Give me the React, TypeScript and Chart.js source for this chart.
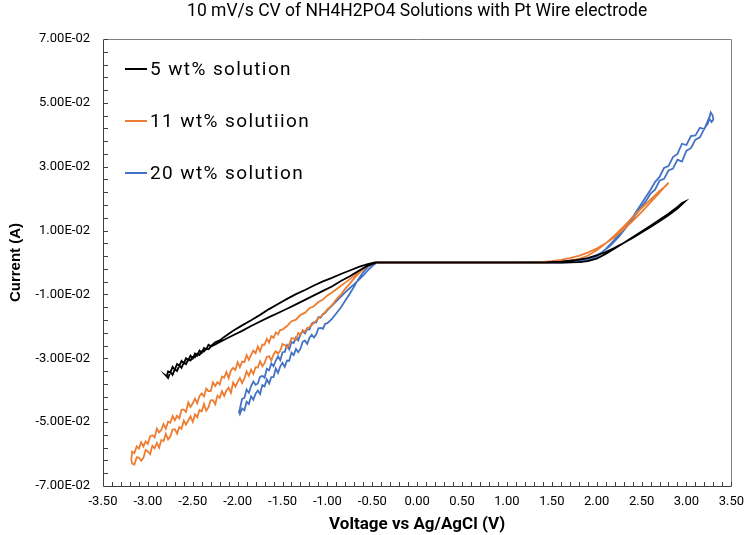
import React, { useEffect, useRef } from "react";
import { Chart, registerables } from "chart.js";

Chart.register(...registerables);

const TITLE = "10 mV/s CV of NH4H2PO4 Solutions with Pt Wire electrode";
const X_TITLE = "Voltage vs Ag/AgCl (V)";
const Y_TITLE = "Current (A)";
const SERIES_LABELS = ["5 wt% solution", "11 wt% solutiion", "20 wt% solution"];
const SERIES_COLORS = ["#000000", "#ED7D31", "#4472C4"];

const X_MIN = -3.5;
const X_MAX = 3.5;
const X_STEP = 0.5;
const Y_MIN = -0.07;
const Y_MAX = 0.07;
const Y_STEP = 0.02;

// 5 wt% solution: voltage (V) and current (A)
const v5 = [
  0, -0.2, -0.45,
  -0.55, -0.65, -0.75, -0.85, -0.95, -1.05, -1.15, -1.25, -1.35, -1.45, -1.55, -1.65, -1.75, -1.85, -1.95, -2.05, -2.15, -2.25,
  -2.3, -2.325, -2.35, -2.375, -2.4, -2.425, -2.45, -2.475, -2.5, -2.525, -2.55, -2.575, -2.6, -2.625, -2.65, -2.675, -2.7, -2.725, -2.75, -2.775, -2.8,
  -2.79, -2.775, -2.75, -2.725, -2.7, -2.675, -2.65, -2.625, -2.6, -2.575, -2.55, -2.525, -2.5, -2.475, -2.45, -2.425, -2.4, -2.375, -2.35, -2.325, -2.3,
  -2.25, -2.2, -2.15, -2.05, -1.95, -1.85, -1.75, -1.65, -1.55, -1.45, -1.35, -1.25, -1.15, -1.05, -0.95, -0.85, -0.75, -0.65, -0.55, -0.47,
  -0.4, 0, 0.5, 1.0, 1.3,
  1.45, 1.6, 1.75, 1.9, 2.0, 2.1, 2.2, 2.3, 2.4, 2.5, 2.6, 2.7, 2.8, 2.9, 2.98,
  2.95, 2.9, 2.8, 2.7, 2.6, 2.5, 2.4, 2.3, 2.2, 2.1, 2.0, 1.9, 1.8, 1.6, 1.3, 1.0, 0.5, 0,
];
const i5 = [
  0, 0, 0,
  -0.001, -0.0026, -0.0043, -0.0058, -0.0075, -0.0089, -0.0103, -0.0117, -0.0131, -0.0145, -0.0158, -0.0171, -0.0185, -0.0199, -0.0214, -0.0228, -0.0242, -0.0257,
  -0.0264, -0.0272, -0.027, -0.0279, -0.0278, -0.029, -0.0286, -0.0297, -0.0296, -0.0307, -0.0303, -0.0318, -0.0313, -0.033, -0.0322, -0.034, -0.0334, -0.0352, -0.0343, -0.0362, -0.0354,
  -0.0356, -0.0341, -0.0345, -0.0327, -0.0336, -0.0318, -0.0324, -0.0308, -0.0316, -0.03, -0.0306, -0.0292, -0.0301, -0.0285, -0.0292, -0.0276, -0.0283, -0.0268, -0.0272, -0.0258, -0.0262,
  -0.025, -0.0244, -0.0233, -0.0214, -0.0197, -0.0181, -0.0164, -0.0146, -0.013, -0.0114, -0.0099, -0.0086, -0.0072, -0.0059, -0.0048, -0.0036, -0.0025, -0.0014, -0.0005, 0,
  0, 0, 0, 0, 0,
  0.0001, 0.0003, 0.0007, 0.0014, 0.0022, 0.0033, 0.0046, 0.0061, 0.0077, 0.0094, 0.0111, 0.0129, 0.0148, 0.0169, 0.019,
  0.0186, 0.0174, 0.0153, 0.0134, 0.0115, 0.0097, 0.0079, 0.0061, 0.0044, 0.0027, 0.0012, 0.0004, 0.0001, 0, 0, 0, 0, 0,
];

// 11 wt% solution
const v11 = [
  0, -0.2, -0.45,
  -0.5, -0.55, -0.6, -0.65, -0.7, -0.75, -0.8, -0.85, -0.9, -0.95, -1.0, -1.05, -1.1, -1.15,
  -1.2, -1.225, -1.25, -1.275, -1.3, -1.325, -1.35, -1.375, -1.4, -1.425, -1.45, -1.475, -1.5, -1.525, -1.55, -1.575, -1.6, -1.625, -1.65, -1.675,
  -1.7, -1.725, -1.75, -1.775, -1.8, -1.825, -1.85, -1.875, -1.9, -1.925, -1.95, -1.975, -2.0, -2.025, -2.05, -2.075, -2.1, -2.125, -2.15, -2.175,
  -2.2, -2.225, -2.25, -2.275, -2.3, -2.325, -2.35, -2.375, -2.4, -2.425, -2.45, -2.475, -2.5, -2.525, -2.55, -2.575, -2.6, -2.625, -2.65, -2.675,
  -2.7, -2.725, -2.75, -2.775, -2.8, -2.825, -2.85, -2.875, -2.9, -2.925, -2.95, -2.975, -3.0, -3.025, -3.05, -3.075, -3.1, -3.125, -3.15, -3.175,
  -3.185,
  -3.175, -3.15, -3.125, -3.1, -3.075, -3.05, -3.025, -3.0, -2.975, -2.95, -2.925, -2.9, -2.875, -2.85, -2.825, -2.8, -2.775, -2.75, -2.725, -2.7,
  -2.675, -2.65, -2.625, -2.6, -2.575, -2.55, -2.525, -2.5, -2.475, -2.45, -2.425, -2.4, -2.375, -2.35, -2.325, -2.3, -2.275, -2.25, -2.225, -2.2,
  -2.175, -2.15, -2.125, -2.1, -2.075, -2.05, -2.025, -2.0, -1.975, -1.95, -1.925, -1.9, -1.875, -1.85, -1.825, -1.8, -1.775, -1.75, -1.725, -1.7,
  -1.675, -1.65, -1.625, -1.6, -1.575, -1.55, -1.525, -1.5,
  -1.45, -1.4, -1.35, -1.3, -1.25, -1.2, -1.15, -1.1, -1.05, -1.0, -0.95, -0.9, -0.85, -0.8, -0.75, -0.7, -0.65, -0.6, -0.55, -0.5, -0.45,
  0, 0.5, 1.0, 1.3,
  1.4, 1.5, 1.6, 1.7, 1.8, 1.9, 2.0, 2.1, 2.2, 2.3, 2.4, 2.5, 2.6, 2.7, 2.75, 2.8,
  2.78, 2.7, 2.6, 2.5, 2.4, 2.3, 2.2, 2.1, 2.0, 1.9, 1.8, 1.7, 1.6, 1.4, 1.0, 0.5, 0,
];
const i11 = [
  0, 0, 0,
  -0.0004, -0.0011, -0.0021, -0.0034, -0.0049, -0.0066, -0.0082, -0.0101, -0.0115, -0.0134, -0.0147, -0.0164, -0.0174, -0.019,
  -0.0202, -0.0205, -0.0217, -0.0212, -0.0226, -0.0221, -0.0242, -0.0238, -0.0237, -0.0256, -0.0267, -0.0258, -0.0255, -0.0276, -0.0286, -0.0278, -0.0288, -0.0307, -0.0293, -0.0296,
  -0.0315, -0.0325, -0.0309, -0.0329, -0.0328, -0.0349, -0.0336, -0.0355, -0.0341, -0.0363, -0.0378, -0.0362, -0.0374, -0.0389, -0.0376, -0.0408, -0.0392, -0.0401, -0.0418, -0.0403,
  -0.0424, -0.0417, -0.0444, -0.0431, -0.0432, -0.0453, -0.0464, -0.0443, -0.0466, -0.0462, -0.0485, -0.0476, -0.0499, -0.0482, -0.0495, -0.0508, -0.0495, -0.0521, -0.0515, -0.0536,
  -0.0522, -0.0523, -0.0545, -0.0554, -0.0537, -0.0559, -0.0556, -0.058, -0.0565, -0.0582, -0.0574, -0.06, -0.0592, -0.0587, -0.0612, -0.0621, -0.0611, -0.061, -0.0633, -0.063,
  -0.0618,
  -0.0592, -0.0597, -0.0576, -0.0583, -0.0563, -0.0576, -0.056, -0.0568, -0.0544, -0.0541, -0.0548, -0.052, -0.0532, -0.0524, -0.0506, -0.0521, -0.0498, -0.0502, -0.0481, -0.0494,
  -0.048, -0.0488, -0.0461, -0.0461, -0.0468, -0.0438, -0.0452, -0.0441, -0.0426, -0.0441, -0.0418, -0.041, -0.0419, -0.0395, -0.0403, -0.0403, -0.0375, -0.0387, -0.0375, -0.0382,
  -0.0357, -0.0361, -0.0343, -0.0362, -0.0338, -0.033, -0.0337, -0.0312, -0.0328, -0.031, -0.0312, -0.029, -0.0305, -0.0289, -0.0276, -0.0284, -0.0263, -0.0278, -0.0257, -0.0258,
  -0.0239, -0.0251, -0.0231, -0.0236, -0.0219, -0.0225, -0.0211, -0.021,
  -0.0199, -0.0184, -0.0179, -0.0164, -0.0158, -0.0143, -0.0137, -0.0124, -0.0116, -0.0103, -0.0094, -0.0084, -0.0073, -0.0063, -0.0052, -0.0041, -0.003, -0.002, -0.001, -0.0003, 0,
  0, 0, 0, 0,
  0.0002, 0.0004, 0.0008, 0.0014, 0.0021, 0.0031, 0.0044, 0.006, 0.008, 0.0104, 0.013, 0.0158, 0.0188, 0.0219, 0.0235, 0.025,
  0.0242, 0.0224, 0.0197, 0.017, 0.0141, 0.0112, 0.0085, 0.006, 0.0038, 0.0021, 0.0011, 0.0005, 0.0002, 0, 0, 0, 0,
];

// 20 wt% solution
const v20 = [
  0, -0.2, -0.45,
  -0.5, -0.55, -0.6, -0.65, -0.7, -0.75, -0.8, -0.85, -0.9, -0.95,
  -1.0, -1.025, -1.05, -1.075, -1.1, -1.125, -1.15, -1.175, -1.2, -1.225, -1.25, -1.275, -1.3, -1.325, -1.35, -1.375, -1.4, -1.425, -1.45, -1.475,
  -1.5, -1.525, -1.55, -1.575, -1.6, -1.625, -1.65, -1.675, -1.7, -1.725, -1.75, -1.775, -1.8, -1.825, -1.85, -1.875, -1.9, -1.925, -1.95, -1.975,
  -1.985,
  -1.975, -1.95, -1.925, -1.9, -1.875, -1.85, -1.825, -1.8, -1.775, -1.75, -1.725, -1.7, -1.675, -1.65, -1.625, -1.6, -1.575, -1.55, -1.525, -1.5,
  -1.475, -1.45, -1.425, -1.4, -1.375, -1.35, -1.325, -1.3, -1.275, -1.25, -1.225, -1.2, -1.175, -1.15, -1.125, -1.1, -1.075, -1.05, -1.025, -1.0,
  -0.95, -0.9, -0.85, -0.8, -0.75, -0.7, -0.65, -0.6, -0.55, -0.5, -0.45,
  0, 0.5, 1.0, 1.4,
  1.6, 1.75, 1.85, 1.95, 2.05, 2.15, 2.25, 2.35, 2.45, 2.55, 2.6, 2.65, 2.7, 2.75, 2.8, 2.85, 2.9, 2.95, 3.0, 3.05, 3.1, 3.15, 3.2, 3.24, 3.27, 3.29, 3.3,
  3.28, 3.25, 3.2, 3.15, 3.1, 3.05, 3.0, 2.95, 2.9, 2.85, 2.8, 2.75, 2.7, 2.65, 2.6, 2.5, 2.4, 2.3, 2.2, 2.1, 2.0, 1.9, 1.8, 1.6, 1.4, 1.0, 0.5, 0,
];
const i20 = [
  0, 0, 0,
  -0.0004, -0.0014, -0.003, -0.005, -0.0074, -0.0098, -0.0119, -0.0141, -0.0159, -0.0177,
  -0.019, -0.0192, -0.0208, -0.0205, -0.0206, -0.0225, -0.0235, -0.0226, -0.0236, -0.0255, -0.0245, -0.0248, -0.027, -0.0281, -0.0271, -0.029, -0.0282, -0.0308, -0.0307, -0.0327,
  -0.0314, -0.0325, -0.0346, -0.0332, -0.0359, -0.0359, -0.0379, -0.0366, -0.0388, -0.0384, -0.0412, -0.0401, -0.0411, -0.043, -0.0419, -0.0443, -0.0436, -0.0463, -0.0457, -0.0475,
  -0.0468,
  -0.0458, -0.0427, -0.0424, -0.0398, -0.0408, -0.0387, -0.0373, -0.0383, -0.0379, -0.0358, -0.0355, -0.0361, -0.0333, -0.0338, -0.0316, -0.0325, -0.0307, -0.0294, -0.0306, -0.0281,
  -0.028, -0.0259, -0.0272, -0.0249, -0.0252, -0.0235, -0.0244, -0.0225, -0.0214, -0.0222, -0.0209, -0.021, -0.0192, -0.0187, -0.0188, -0.0171, -0.0173, -0.0161, -0.0158, -0.0149,
  -0.0136, -0.0121, -0.0107, -0.0093, -0.008, -0.0068, -0.0054, -0.004, -0.0025, -0.0011, 0,
  0, 0, 0, 0.0001,
  0.0002, 0.0004, 0.0008, 0.0016, 0.003, 0.0052, 0.0082, 0.0118, 0.0155, 0.0193, 0.0216, 0.0228, 0.0256, 0.0262, 0.0288, 0.0294, 0.0322, 0.0316, 0.035, 0.0358, 0.0385, 0.0392, 0.042, 0.0436, 0.047, 0.0462, 0.0448,
  0.044, 0.0452, 0.0418, 0.0422, 0.0398, 0.0396, 0.0368, 0.0372, 0.034, 0.033, 0.0302, 0.0296, 0.0268, 0.0252, 0.0228, 0.0185, 0.0142, 0.0106, 0.0072, 0.0042, 0.0018, 0.0006, 0.0002, 0, 0, 0, 0, 0,
];

const SERIES_V = [v5, v11, v20];
const SERIES_I = [i5, i11, i20];

const FONT = 'Roboto, "Noto Sans", sans-serif';
const BOLD_FONT = '"Liberation Sans", Arial, sans-serif';

function fmtExp(v: number): string {
  if (Math.abs(v) < 1e-12) return "0.00E+00";
  const [m, e] = v.toExponential(2).split("e");
  const n = parseInt(e, 10);
  const sign = n < 0 ? "-" : "+";
  const abs = Math.abs(n);
  return `${m}E${sign}${abs < 10 ? "0" + abs : abs}`;
}

const framePlugin = {
  id: "frameAndMinorTicks",
  afterDatasetsDraw(chart: any) {
    const { ctx, scales } = chart;
    const xs = scales.x;
    const ys = scales.y;
    const left = Math.round(xs.getPixelForValue(X_MIN)) + 0.5;
    const right = Math.round(xs.getPixelForValue(X_MAX)) + 0.5;
    const top = Math.round(ys.getPixelForValue(Y_MAX)) + 0.5;
    const bottom = Math.round(ys.getPixelForValue(Y_MIN)) + 0.5;
    ctx.save();
    ctx.lineWidth = 1;
    ctx.strokeStyle = "#7f7f7f";
    ctx.beginPath();
    ctx.moveTo(left, top);
    ctx.lineTo(right, top);
    ctx.lineTo(right, bottom);
    ctx.stroke();
    ctx.strokeStyle = "#404040";
    ctx.beginPath();
    ctx.moveTo(left, top);
    ctx.lineTo(left, bottom);
    ctx.lineTo(right, bottom);
    ctx.stroke();
    // minor ticks (inside)
    ctx.beginPath();
    const nx = Math.round((X_MAX - X_MIN) / 0.1);
    for (let k = 0; k <= nx; k++) {
      const px = Math.round(xs.getPixelForValue(X_MIN + k * 0.1)) + 0.5;
      ctx.moveTo(px, bottom - 0.5);
      ctx.lineTo(px, bottom - 4.5);
    }
    const ny = Math.round((Y_MAX - Y_MIN) / 0.004);
    for (let k = 0; k <= ny; k++) {
      const py = Math.round(ys.getPixelForValue(Y_MIN + k * 0.004)) + 0.5;
      ctx.moveTo(left + 0.5, py);
      ctx.lineTo(left + 4.5, py);
    }
    ctx.stroke();
    ctx.restore();
  },
};

const legendPlugin = {
  id: "insideLegend",
  afterDraw(chart: any) {
    const { ctx, chartArea } = chart;
    ctx.save();
    ctx.font = `19px ${FONT}`;
    try {
      (ctx as any).letterSpacing = "1.4px";
    } catch (e) {
      // ignore
    }
    ctx.textBaseline = "middle";
    ctx.textAlign = "left";
    chart.data.datasets.forEach((ds: any, k: number) => {
      const y = chartArea.top + 30 + k * 52;
      ctx.strokeStyle = ds.borderColor;
      ctx.lineWidth = 2;
      ctx.beginPath();
      ctx.moveTo(chartArea.left + 22, y);
      ctx.lineTo(chartArea.left + 44, y);
      ctx.stroke();
      ctx.fillStyle = "#000";
      ctx.fillText(ds.label, chartArea.left + 47, y + 1);
    });
    ctx.restore();
  },
};

export default function App() {
  const ref = useRef<HTMLCanvasElement | null>(null);
  useEffect(() => {
    if (!ref.current) return;
    const datasets = SERIES_LABELS.map((label, s) => {
      const n = Math.min(SERIES_V[s].length, SERIES_I[s].length);
      const data = [];
      for (let k = 0; k < n; k++) data.push({ x: SERIES_V[s][k], y: SERIES_I[s][k] });
      return {
        label,
        data,
        borderColor: SERIES_COLORS[s],
        backgroundColor: SERIES_COLORS[s],
        borderWidth: 1.8,
        showLine: true,
        pointRadius: 0,
        tension: 0,
        fill: false,
      };
    });
    const chart = new Chart(ref.current, {
      type: "scatter",
      data: { datasets },
      options: {
        animation: false,
        responsive: false,
        layout: { padding: { left: 0, right: 7, top: 0, bottom: 0 } },
        plugins: {
          legend: { display: false },
          tooltip: { enabled: false },
          title: {
            display: true,
            text: TITLE,
            fullSize: false,
            color: "#000",
            font: { size: 17.5, family: FONT, weight: "normal" },
            padding: { top: 1, bottom: 17 },
          },
        },
        scales: {
          x: {
            type: "linear",
            min: X_MIN,
            max: X_MAX,
            grid: { display: false, drawTicks: false },
            border: { display: false },
            ticks: {
              stepSize: X_STEP,
              autoSkip: false,
              maxRotation: 0,
              padding: 8,
              color: "#000",
              font: { size: 13, family: FONT },
              callback: (v: any) => (Math.abs(v) < 1e-9 ? "0.00" : Number(v).toFixed(2)),
            },
            title: {
              display: true,
              text: X_TITLE,
              color: "#000",
              font: { size: 17, family: FONT, weight: "bold", lineHeight: 1.2 },
              padding: { top: 0, bottom: 0 },
            },
            afterFit: (s: any) => {
              s.height = 49;
            },
          },
          y: {
            type: "linear",
            min: Y_MIN,
            max: Y_MAX,
            grid: { display: false, drawTicks: false },
            border: { display: false },
            ticks: {
              stepSize: Y_STEP,
              autoSkip: false,
              padding: 13,
              color: "#000",
              font: { size: 13, family: FONT },
              callback: (v: any) => fmtExp(Number(v)),
            },
            title: {
              display: true,
              text: Y_TITLE,
              color: "#000",
              font: { size: 15, family: BOLD_FONT, weight: "bold", lineHeight: 1.2 },
              padding: { top: 7, bottom: 0 },
            },
            afterFit: (s: any) => {
              s.width = 103;
            },
          },
        },
      },
      plugins: [framePlugin, legendPlugin],
    });
    return () => chart.destroy();
  }, []);
  return (
    <div style={{ position: "absolute", left: 0, top: 0, width: 752, height: 535, background: "#fff" }}>
      <canvas ref={ref} width={752} height={535} />
    </div>
  );
}
